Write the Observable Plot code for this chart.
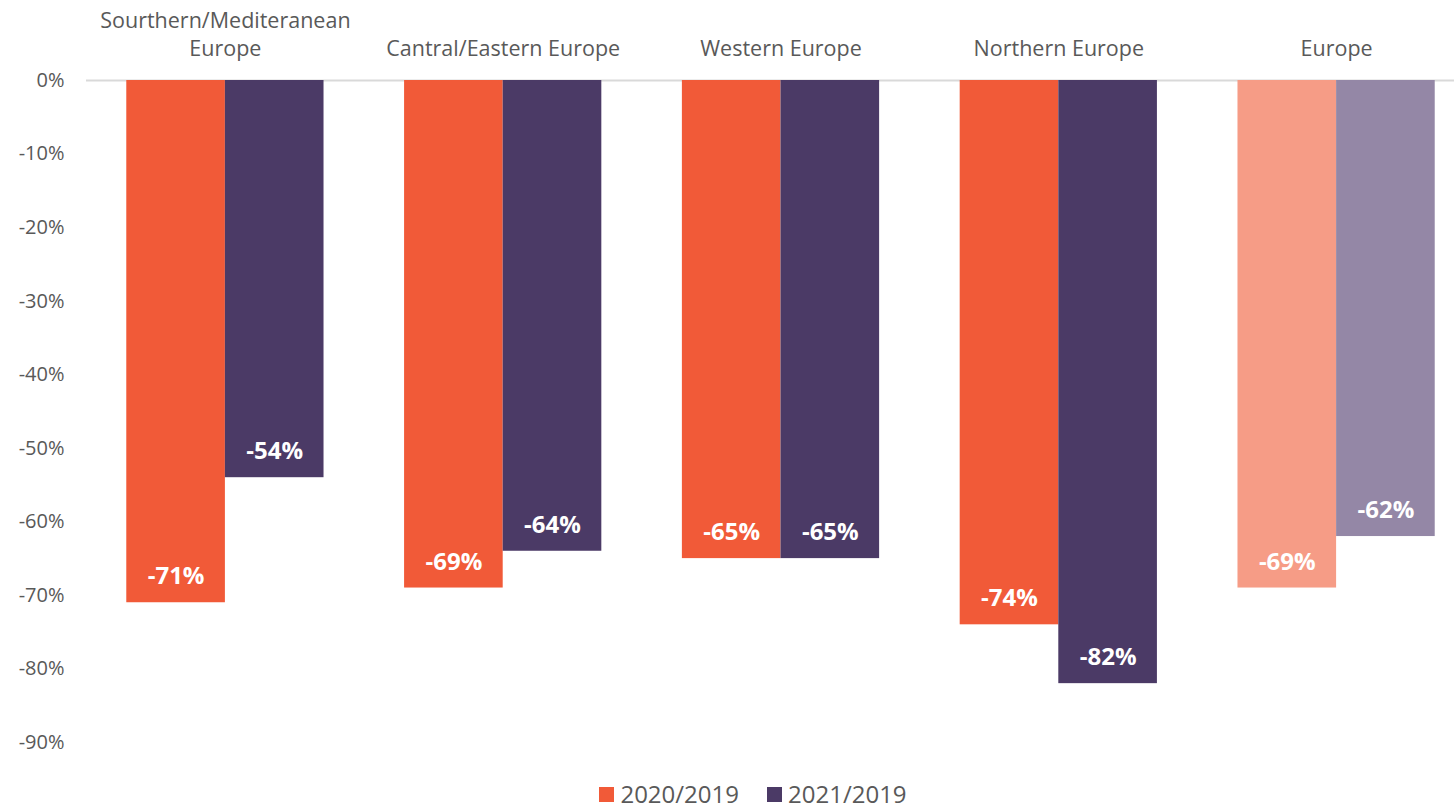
<!DOCTYPE html>
<html>
<head>
<meta charset="utf-8">
<script src="https://cdn.jsdelivr.net/npm/d3@7"></script>
<script src="https://cdn.jsdelivr.net/npm/@observablehq/plot@0.6"></script>
<style>
  body { margin: 0; background: #fff; font-family: "Open Sans", sans-serif; overflow: hidden; }
  #legend { display: flex; justify-content: center; gap: 28px; font-size: 24px; color: #595959; margin-top: 7px; padding-left: 52px; }
  #legend span.sw { display: inline-block; width: 15px; height: 15px; margin-right: 6px; vertical-align: middle; position: relative; top: -2px; }
</style>
</head>
<body>
<div id="chart"></div>
<div id="legend"></div>
<script>
const regions = ["Sourthern/Mediteranean\nEurope", "Cantral/Eastern Europe", "Western Europe", "Northern Europe", "Europe"];
const series = ["2020/2019", "2021/2019"];
const values2020 = [-71, -69, -65, -74, -69];
const values2021 = [-54, -64, -65, -82, -62];
const yTicks = [0, -10, -20, -30, -40, -50, -60, -70, -80, -90];
const colorKeys = ["2020/2019", "2021/2019", "2020/2019 Europe", "2021/2019 Europe"];
const colorRange = ["#F15A38", "#4B3A66", "#F69C86", "#9487A6"];

const data2020 = regions.map((r, i) => ({region: r, series: series[0], value: values2020[i]}));
const data2021 = regions.map((r, i) => ({region: r, series: series[1], value: values2021[i]}));
const fillKey = d => d.region === "Europe" ? d.series + " Europe" : d.series;

const xRange = [86, 1475];
const padIn = 0.29, padOut = 0.145;
const half = d3.scaleBand().domain(regions).range(xRange).paddingInner(padIn).paddingOuter(padOut).bandwidth() / 2;

const chart = Plot.plot({
  width: 1454,
  height: 770,
  marginTop: 80,
  marginBottom: 28,
  marginLeft: 86,
  marginRight: 0,
  style: {fontFamily: "'Open Sans', sans-serif", color: "#595959", background: "#fff"},
  x: {domain: regions, range: xRange, paddingInner: padIn, paddingOuter: padOut, round: false, label: null},
  y: {domain: [-90, 0], label: null},
  color: {domain: colorKeys, range: colorRange},
  marks: [
    Plot.ruleY([0], {stroke: "#d9d9d9", strokeWidth: 2}),
    Plot.barY(data2020, {x: "region", y: "value", fill: fillKey, insetRight: half}),
    Plot.barY(data2021, {x: "region", y: "value", fill: fillKey, insetLeft: half}),
    Plot.text(data2020, {x: "region", y: "value", text: d => d.value + "%", dx: -half / 2, dy: -26, fill: "white", fontWeight: "bold", fontSize: 24}),
    Plot.text(data2021, {x: "region", y: "value", text: d => d.value + "%", dx: half / 2, dy: -26, fill: "white", fontWeight: "bold", fontSize: 24}),
    Plot.axisY({ticks: yTicks, tickFormat: d => d + "%", tickSize: 0, tickPadding: 22, fontSize: 20, label: null}),
    Plot.axisX({anchor: "top", tickSize: 0, tickPadding: 25, fontSize: 21.5, lineHeight: 1.3, label: null})
  ]
});
document.getElementById("chart").appendChild(chart);

const legend = document.getElementById("legend");
series.forEach((s, i) => {
  const item = document.createElement("div");
  item.innerHTML = `<span class="sw" style="background:${colorRange[i]}"></span>${s}`;
  legend.appendChild(item);
});
</script>
</body>
</html>
